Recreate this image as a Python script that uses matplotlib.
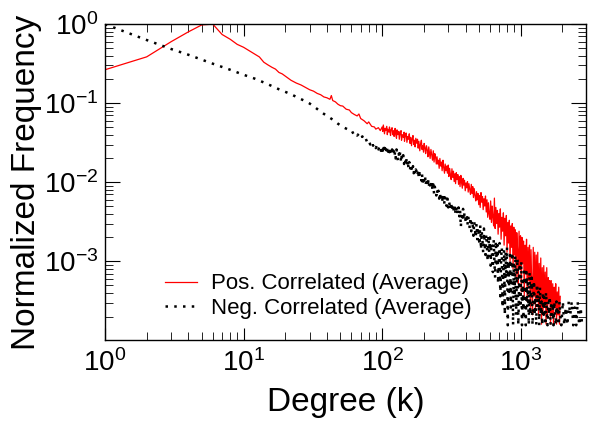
import matplotlib
matplotlib.use("Agg")
import matplotlib.pyplot as plt

plt.rcParams['font.family'] = ['Liberation Sans', 'DejaVu Sans']
plt.rcParams['axes.unicode_minus'] = False

# degree values (k) and normalized frequencies
k_head = [1, 2, 3, 4, 5, 6, 7, 8, 9, 10]
pos_head = [0.265, 0.386, 0.60, 0.80, 0.98, 1.0, 0.74, 0.645, 0.555, 0.51]
neg_head = [1.0, 0.63, 0.485, 0.41, 0.355, 0.316, 0.288, 0.265, 0.245, 0.229]

k_pos_mid = [11, 12, 13, 14, 15, 16, 17, 18, 19, 20, 22, 24, 26, 28, 30, 32, 34,
             36, 38, 40, 42, 43, 44, 46, 48, 50, 52, 55, 58, 60, 63, 66, 68, 70,
             74, 78, 80, 84, 88, 90, 94, 97]
pos_mid = [0.46, 0.42, 0.385, 0.33, 0.305, 0.285, 0.27, 0.245, 0.235, 0.22,
           0.195, 0.18, 0.17, 0.158, 0.148, 0.142, 0.133, 0.128, 0.12, 0.117,
           0.112, 0.125, 0.108, 0.104, 0.097, 0.093, 0.092, 0.084, 0.082, 0.076,
           0.072, 0.069, 0.073, 0.064, 0.06, 0.055, 0.058, 0.051, 0.05, 0.047,
           0.049, 0.045]

k_neg_mid = [12, 14, 16, 18, 20, 22, 25, 28, 30, 33, 36, 40, 44, 48, 52, 56, 60,
             62, 64, 66, 68, 70, 72, 74, 76, 78, 80, 82, 84, 86, 88, 90, 92, 94,
             96, 98]
neg_mid = [0.205, 0.183, 0.165, 0.150, 0.139, 0.130, 0.116, 0.106, 0.099, 0.088,
           0.078, 0.069, 0.062, 0.055, 0.050, 0.047, 0.046, 0.041, 0.043, 0.039,
           0.041, 0.036, 0.038, 0.034, 0.036, 0.032, 0.034, 0.030, 0.033, 0.029,
           0.031, 0.027, 0.030, 0.026, 0.029, 0.025]

# noisy high-degree part
k_tail = [100, 101, 102, 104, 105, 106, 108, 109, 110, 112, 113, 115, 116, 118, 119,
          121, 122, 124, 125, 127, 128, 130, 132, 133, 135, 137, 138, 140, 142, 144, 145,
          147, 149, 151, 153, 155, 157, 159, 161, 163, 165, 167, 169, 171, 173, 175,
          178, 180, 182, 184, 187, 189, 192, 194, 196, 199, 201, 204, 206, 209,
          212, 214, 217, 220, 222, 225, 228, 231, 234, 237, 240, 243, 246,
          249, 252, 255, 258, 261, 265, 268, 271, 275, 278, 282, 285, 289, 292,
          296, 300, 303, 307, 311, 315, 319, 323, 327, 331, 335, 339, 343,
          347, 352, 356, 361, 365, 370, 374, 379, 384, 388, 393, 398, 403,
          408, 413, 418, 423, 429, 434, 440, 445, 451, 456, 462, 468, 474,
          480, 486, 492, 498, 504, 510, 517, 523, 530, 536, 543, 550, 557,
          564, 571, 578, 585, 592, 600, 607, 615, 622, 630, 638, 646, 654,
          662, 670, 679, 687, 696, 704, 713, 722, 731, 740, 750, 759,
          768, 778, 788, 797, 807, 817, 828, 838, 849, 859, 870,
          881, 892, 903, 914, 926, 937, 949, 961, 973, 985, 997,
          1010, 1022, 1035, 1048, 1061, 1075, 1088, 1102, 1115, 1129,
          1144, 1158, 1172, 1187, 1202, 1217, 1232, 1248, 1263, 1279,
          1295, 1311, 1328, 1344, 1361, 1378, 1396, 1413, 1431, 1449,
          1467, 1485, 1504, 1523, 1542, 1561, 1581, 1601, 1621, 1641,
          1662, 1682, 1703, 1725, 1746, 1768, 1790, 1813, 1836, 1859, 1882, 1905, 1929]
pos_tail = [0.050, 0.044, 0.053, 0.041, 0.048, 0.045, 0.051, 0.040, 0.047, 0.043, 0.050, 0.039, 0.046, 0.049, 0.040,
            0.045, 0.038, 0.048, 0.041, 0.036, 0.046, 0.040, 0.044, 0.035, 0.042, 0.045, 0.034, 0.040, 0.037, 0.043, 0.033,
            0.039, 0.042, 0.032, 0.038, 0.035, 0.041, 0.031, 0.037, 0.029, 0.036, 0.039, 0.030, 0.034, 0.028, 0.036,
            0.031, 0.035, 0.027, 0.033, 0.025, 0.030, 0.034, 0.026, 0.029, 0.024, 0.031, 0.027, 0.023, 0.029,
            0.025, 0.021, 0.028, 0.023, 0.020, 0.026, 0.022, 0.019, 0.025, 0.018, 0.023, 0.021, 0.017,
            0.021, 0.017, 0.019, 0.015, 0.020, 0.016, 0.018, 0.014, 0.019, 0.0155, 0.013, 0.017, 0.014, 0.016,
            0.013, 0.0165, 0.0118, 0.015, 0.0125, 0.0108, 0.0148, 0.0115, 0.0138, 0.0102, 0.0128, 0.0096, 0.0132,
            0.0108, 0.0125, 0.0094, 0.0118, 0.0088, 0.0122, 0.0100, 0.0084, 0.0112, 0.0092, 0.0106, 0.0078, 0.0098,
            0.0085, 0.0102, 0.0075, 0.0096, 0.0080, 0.0070, 0.0094, 0.0072, 0.0088, 0.0064, 0.0083, 0.0068, 0.0058,
            0.0076, 0.0060, 0.0072, 0.0052, 0.0068, 0.0048, 0.0074, 0.0056, 0.0066, 0.0045, 0.0062, 0.0050, 0.0067,
            0.0042, 0.0060, 0.0036, 0.0055, 0.0040, 0.0034, 0.0058, 0.0031, 0.0050, 0.0036, 0.0028, 0.0063, 0.0026,
            0.0048, 0.0030, 0.0044, 0.0022, 0.0040, 0.0027, 0.0046, 0.0019, 0.0036, 0.0024, 0.0041, 0.0016,
            0.0035, 0.0021, 0.0038, 0.0013, 0.0031, 0.0017, 0.0033, 0.0010, 0.0028, 0.0015, 0.0030,
            0.00080, 0.0027, 0.0012, 0.0025, 0.00062, 0.0023, 0.0014, 0.00052, 0.0024, 0.00083, 0.0021,
            0.00041, 0.0020, 0.00094, 0.0018, 0.00036, 0.0016, 0.00073, 0.0019, 0.00031, 0.0015,
            0.00057, 0.0016, 0.00026, 0.0014, 0.00047, 0.00021, 0.0015, 0.00036, 0.0013, 0.00026,
            0.0012, 0.00031, 0.0013, 0.00021, 0.00094, 0.00026, 0.0011, 0.00016, 0.00083, 0.00021,
            0.00088, 0.00026, 0.00073, 0.00016, 0.00083, 0.00021, 0.00062, 0.00031, 0.00057, 0.00016,
            0.00057, 0.00021, 0.00052, 0.00016, 0.00047, 0.00026, 0.00052, 0.00016, 0.00041, 0.00021, 0.00047, 0.00016, 0.00036]

k_neg_tail = k_tail + [1965, 2014, 2064, 2116, 2169, 2223, 2279, 2336, 2394,
                       2454, 2515, 2578, 2642, 2708, 2776]
neg_tail = [0.028, 0.025, 0.030, 0.024, 0.027, 0.023, 0.029, 0.025, 0.022, 0.027, 0.024, 0.028, 0.022, 0.026, 0.023,
            0.025, 0.021, 0.024, 0.020, 0.026, 0.022, 0.019, 0.023, 0.020, 0.024, 0.018, 0.021, 0.019, 0.022, 0.017, 0.020,
            0.018, 0.021, 0.016, 0.019, 0.015, 0.018, 0.0145, 0.017, 0.0155, 0.0135, 0.016, 0.013, 0.0152, 0.0125, 0.0145,
            0.0135, 0.012, 0.0145, 0.011, 0.013, 0.0118, 0.0105, 0.0128, 0.0098, 0.0118, 0.0105, 0.0122, 0.0092, 0.011,
            0.0098, 0.0115, 0.0086, 0.0105, 0.0092, 0.0082, 0.0102, 0.0078, 0.0094, 0.0072, 0.0088, 0.0076, 0.0068,
            0.0082, 0.0068, 0.0078, 0.0062, 0.0074, 0.0058, 0.0071, 0.0063, 0.0055, 0.0068, 0.0052, 0.0064, 0.0056, 0.0050,
            0.0062, 0.0048, 0.0058, 0.0052, 0.0045, 0.0056, 0.0043, 0.0053, 0.0047, 0.0041, 0.0051, 0.0039, 0.0046,
            0.0050, 0.0040, 0.0048, 0.0037, 0.0045, 0.0027, 0.0042, 0.0036, 0.0046, 0.0033, 0.0041, 0.0035, 0.0030,
            0.0040, 0.0029, 0.0037, 0.0032, 0.0026, 0.0036, 0.0024, 0.0033, 0.0028, 0.0021, 0.0032, 0.0025, 0.0020,
            0.0030, 0.0019, 0.0027, 0.0022, 0.0016, 0.0029, 0.0014, 0.0024, 0.0018, 0.0013, 0.0026, 0.0016, 0.0012,
            0.0022, 0.0015, 0.0010, 0.0021, 0.0013, 0.0020, 0.00088, 0.0017, 0.0012, 0.00073, 0.0019, 0.0010, 0.00062,
            0.0018, 0.00094, 0.0016, 0.00052, 0.0013, 0.0017, 0.00036, 0.0011, 0.0015, 0.00026, 0.00083, 0.0014,
            0.00021, 0.0013, 0.00062, 0.0015, 0.000155, 0.0010, 0.00041, 0.0012, 0.00026, 0.00073, 0.0013,
            0.000155, 0.00094, 0.00036, 0.0012, 0.00021, 0.00062, 0.0011, 0.000155, 0.00047, 0.00094, 0.00026,
            0.0010, 0.000155, 0.00057, 0.00021, 0.00083, 0.00031, 0.000155, 0.00073, 0.00026, 0.00052,
            0.000155, 0.00073, 0.00021, 0.00041, 0.00062, 0.000155, 0.00031, 0.00057, 0.00021, 0.00036,
            0.000155, 0.00052, 0.00026, 0.00041, 0.000155, 0.00047, 0.00021, 0.00031, 0.000155, 0.00041,
            0.00021, 0.00036, 0.000155, 0.00041, 0.00026, 0.000155, 0.00031, 0.00021, 0.00036, 0.000155,
            0.00031, 0.00021, 0.00026, 0.000155, 0.00031, 0.00021, 0.000155, 0.00031, 0.00021, 0.00026, 0.000155, 0.00031, 0.00021,
            0.000155, 0.00031, 0.000155, 0.00026, 0.000155, 0.00031, 0.00021, 0.00031, 0.000155, 0.00026,
            0.000155, 0.00031, 0.000155, 0.00026, 0.000155]

k_pos = k_head + k_pos_mid + k_tail
pos = pos_head + pos_mid + pos_tail
k_neg = k_head + k_neg_mid + k_neg_tail
neg = neg_head + neg_mid + neg_tail

fig = plt.figure(figsize=(6.0, 4.24), dpi=100)
ax = fig.add_axes([0.175, 0.199, 0.802, 0.744])

ax.plot(k_pos, pos, color='red', lw=0.9, label='Pos. Correlated (Average)')
ax.plot(k_neg, neg, color='black', lw=1.8, linestyle=(0, (1, 2.5)),
        label='Neg. Correlated (Average)')

ax.set_xscale('log')
ax.set_yscale('log')
ax.set_xlim(1, 2970)
ax.set_ylim(1.02e-4, 1)
ax.set_yticks([1e-3, 1e-2, 1e-1, 1])

ax.tick_params(which='both', direction='in', top=True, right=True, labelsize=20)
ax.tick_params(axis='x', which='major', length=8.5, pad=7)
ax.tick_params(axis='y', which='major', length=10.5, pad=5)
ax.tick_params(which='minor', length=5.5)
for s in ax.spines.values():
    s.set_linewidth(1.0)

ax.set_xlabel('Degree (k)', fontsize=24, labelpad=7)
ax.set_ylabel('Normalized Frequency', fontsize=24, labelpad=1)

ax.legend(loc='lower left', bbox_to_anchor=(0.125, 0.066), frameon=False,
          fontsize=16, handlelength=1.45, handletextpad=0.6, labelspacing=0.15,
          borderaxespad=0, borderpad=0)

fig.savefig('out.png', dpi=100)
